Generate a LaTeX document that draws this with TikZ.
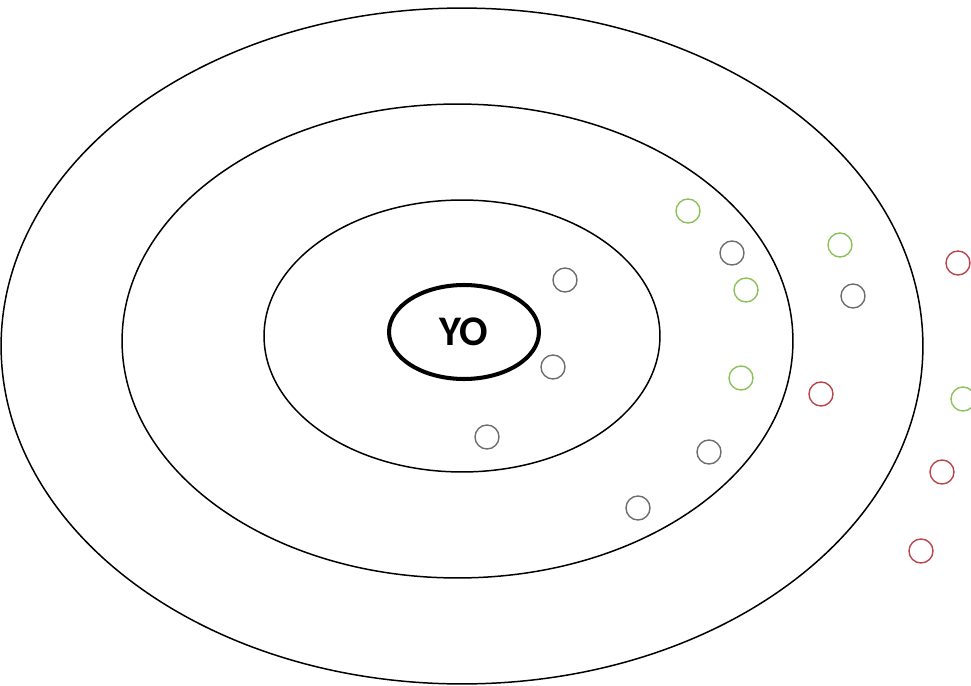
\documentclass[tikz,border=0pt]{standalone}
\usepackage{fontspec}
\setmainfont{Carlito}
\usetikzlibrary{shapes.geometric}
\definecolor{dotgray}{HTML}{6E6E6E}
\definecolor{dotgreen}{HTML}{8DC15A}
\definecolor{dotred}{HTML}{B8474B}
\tikzset{
  ring/.style={draw=black, line width=0.85pt},
  dot/.style={circle, minimum size=0.48cm, inner sep=0pt, line width=0.8pt, fill=none},
  gdot/.style={dot, draw=dotgray},
  grdot/.style={dot, draw=dotgreen},
  rdot/.style={dot, draw=dotred},
}
\begin{document}
\begin{tikzpicture}[x=0.02cm,y=-0.02cm]
\useasboundingbox (0,0) rectangle (971,686);
\draw[ring] (462,346) ellipse [x radius=9.22cm, y radius=6.76cm];
\draw[ring] (457.5,341) ellipse [x radius=6.71cm, y radius=4.74cm];
\draw[ring] (462,336) ellipse [x radius=3.96cm, y radius=2.72cm];
\node[ellipse, draw=black, line width=2.3pt, minimum width=3.0cm, minimum height=1.88cm, inner sep=0pt,
  font=\fontsize{24}{28}\selectfont\bfseries] (yo) at (464,332) {YO};
% gray
\node[gdot] (g1) at (565,280) {};
\node[gdot] (g2) at (732,253) {};
\node[gdot] (g3) at (853,296) {};
\node[gdot] (g4) at (553,367) {};
\node[gdot] (g5) at (487,437) {};
\node[gdot] (g6) at (709,452) {};
\node[gdot] (g7) at (638,508) {};
% green
\node[grdot] (n1) at (688,211) {};
\node[grdot] (n2) at (746,290) {};
\node[grdot] (n3) at (840,245) {};
\node[grdot] (n4) at (741,378) {};
\node[grdot] (n5) at (963,399) {};
% red
\node[rdot] (r1) at (958,263) {};
\node[rdot] (r2) at (821,394) {};
\node[rdot] (r3) at (942,472) {};
\node[rdot] (r4) at (921,551) {};
\end{tikzpicture}
\end{document}
